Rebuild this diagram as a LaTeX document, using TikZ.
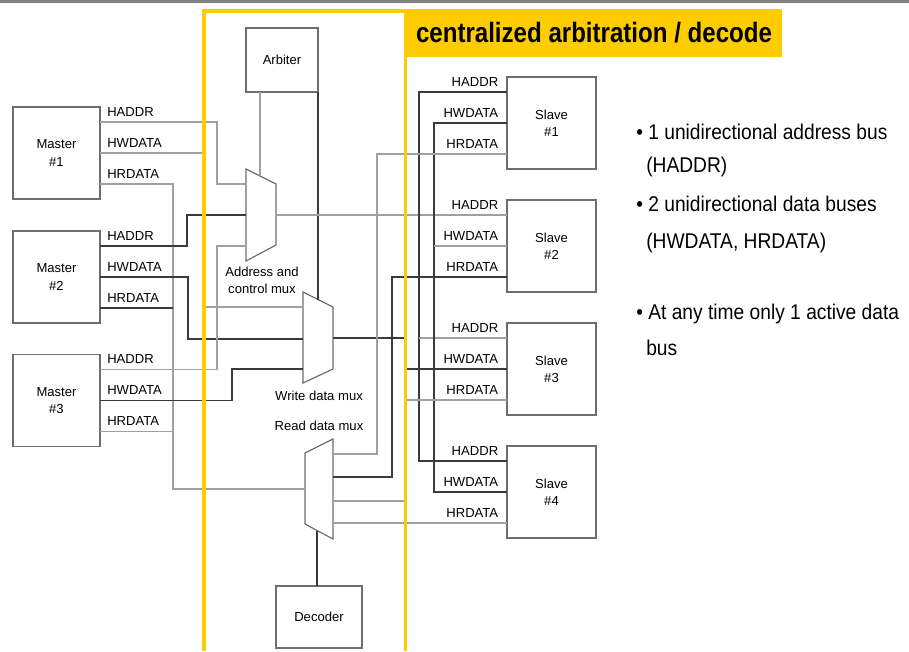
\documentclass[tikz,border=0pt]{standalone}
\usepackage{fontspec}
\setmainfont{Liberation Sans}
\newfontfamily\titlesans[FakeStretch=0.86]{Liberation Sans}
\newfontfamily\slidesans[FakeStretch=0.9]{Liberation Sans}
\usepackage{xcolor}
\usetikzlibrary{positioning, calc}
\definecolor{slideyellow}{HTML}{FFCC00}
\definecolor{bargray}{HTML}{808080}
\definecolor{boxgray}{HTML}{6E6E6E}
\definecolor{wiregray}{HTML}{A0A0A0}
\definecolor{wiredark}{HTML}{3A3A3A}

\begin{document}
\begin{tikzpicture}[x=0.75pt, y=-0.75pt, font=\fontsize{9.8}{13}\selectfont,
    unitbox/.style={rectangle, draw=boxgray, line width=0.9pt, align=center, inner sep=0pt, outer sep=0pt},
    masterbox/.style={unitbox, minimum width=65.25pt, minimum height=69pt},
    slavebox/.style={unitbox, minimum width=66.75pt, minimum height=69pt},
    muxshape/.style={draw=boxgray, line width=0.9pt, fill=white, line join=miter},
    bus/.style={draw=wiregray, line width=0.9pt},
    busdk/.style={draw=wiredark, line width=0.8pt},
    siglabel/.style={inner sep=0pt, anchor=base west},
    slavelabel/.style={inner sep=0pt, anchor=base east}]

    \useasboundingbox (0,0) rectangle (909,651);
    \fill[bargray] (0,0) rectangle (909,3);

    % masters and slaves
    \node (m1) [masterbox] at (56.5,153) {Master\\\#1};
    \node (m2) [masterbox, below=24pt of m1] {Master\\\#2};
    \node (m3) [masterbox, below=23.5pt of m2] {Master\\\#3};
    \node (s1) [slavebox] at (551.5,123) {Slave\\\#1};
    \node (s2) [slavebox, below=23.25pt of s1] {Slave\\\#2};
    \node (s3) [slavebox, below=23.25pt of s2] {Slave\\\#3};
    \node (s4) [slavebox, below=23.25pt of s3] {Slave\\\#4};
    \node (arb) [unitbox, minimum width=54pt, minimum height=48pt] at (282,60) {Arbiter};
    \node (dec) [unitbox, minimum width=64.5pt, minimum height=46.5pt] at (319,617) {Decoder};

    % bus ports
    \coordinate (m1-a) at ([yshift=23.25pt]m1.east);
    \coordinate (m1-w) at (m1.east);
    \coordinate (m1-r) at ([yshift=-23.25pt]m1.east);
    \coordinate (m2-a) at ([yshift=23.25pt]m2.east);
    \coordinate (m2-w) at (m2.east);
    \coordinate (m2-r) at ([yshift=-23.25pt]m2.east);
    \coordinate (m3-a) at ([yshift=23.25pt]m3.east);
    \coordinate (m3-w) at (m3.east);
    \coordinate (m3-r) at ([yshift=-23.25pt]m3.east);
    \coordinate (s1-a) at ([yshift=23.25pt]s1.west);
    \coordinate (s1-w) at (s1.west);
    \coordinate (s1-r) at ([yshift=-23.25pt]s1.west);
    \coordinate (s2-a) at ([yshift=23.25pt]s2.west);
    \coordinate (s2-w) at (s2.west);
    \coordinate (s2-r) at ([yshift=-23.25pt]s2.west);
    \coordinate (s3-a) at ([yshift=23.25pt]s3.west);
    \coordinate (s3-w) at (s3.west);
    \coordinate (s3-r) at ([yshift=-23.25pt]s3.west);
    \coordinate (s4-a) at ([yshift=23.25pt]s4.west);
    \coordinate (s4-w) at (s4.west);
    \coordinate (s4-r) at ([yshift=-23.25pt]s4.west);

    \node [siglabel] at ([shift={(5.25pt,4.5pt)}]m1-a) {HADDR};
    \node [siglabel] at ([shift={(5.25pt,4.5pt)}]m1-w) {HWDATA};
    \node [siglabel] at ([shift={(5.25pt,4.5pt)}]m1-r) {HRDATA};
    \node [siglabel] at ([shift={(5.25pt,4.5pt)}]m2-a) {HADDR};
    \node [siglabel] at ([shift={(5.25pt,4.5pt)}]m2-w) {HWDATA};
    \node [siglabel] at ([shift={(5.25pt,4.5pt)}]m2-r) {HRDATA};
    \node [siglabel] at ([shift={(5.25pt,4.5pt)}]m3-a) {HADDR};
    \node [siglabel] at ([shift={(5.25pt,4.5pt)}]m3-w) {HWDATA};
    \node [siglabel] at ([shift={(5.25pt,4.5pt)}]m3-r) {HRDATA};
    \node [slavelabel] at ([shift={(-6.4pt,4.5pt)}]s1-a) {HADDR};
    \node [slavelabel] at ([shift={(-6.4pt,4.5pt)}]s1-w) {HWDATA};
    \node [slavelabel] at ([shift={(-6.4pt,4.5pt)}]s1-r) {HRDATA};
    \node [slavelabel] at ([shift={(-6.4pt,4.5pt)}]s2-a) {HADDR};
    \node [slavelabel] at ([shift={(-6.4pt,4.5pt)}]s2-w) {HWDATA};
    \node [slavelabel] at ([shift={(-6.4pt,4.5pt)}]s2-r) {HRDATA};
    \node [slavelabel] at ([shift={(-6.4pt,4.5pt)}]s3-a) {HADDR};
    \node [slavelabel] at ([shift={(-6.4pt,4.5pt)}]s3-w) {HWDATA};
    \node [slavelabel] at ([shift={(-6.4pt,4.5pt)}]s3-r) {HRDATA};
    \node [slavelabel] at ([shift={(-6.4pt,4.5pt)}]s4-a) {HADDR};
    \node [slavelabel] at ([shift={(-6.4pt,4.5pt)}]s4-w) {HWDATA};
    \node [slavelabel] at ([shift={(-6.4pt,4.5pt)}]s4-r) {HRDATA};

    % the three muxes
    \draw [muxshape] (246,169) -- (276,184) -- (276,245) -- (246,261) -- cycle;
    \draw [muxshape] (303,292) -- (333,307) -- (333,369) -- (303,383) -- cycle;
    \draw [muxshape] (305,453) -- (333,439) -- (333,539) -- (305,524) -- cycle;
    \coordinate (amux-i1) at (246,184);
    \coordinate (amux-i2) at (246,215);
    \coordinate (amux-i3) at (246,246);
    \coordinate (amux-o) at (276,215);
    \coordinate (amux-sel) at (260,176);
    \coordinate (wmux-i1) at (303,307);
    \coordinate (wmux-i2) at (303,339);
    \coordinate (wmux-i3) at (303,369);
    \coordinate (wmux-o) at (333,338);
    \coordinate (wmux-sel) at (318,299.5);
    \coordinate (rmux-o) at (305,489);
    \coordinate (rmux-i1) at (333,454);
    \coordinate (rmux-i2) at (333,477);
    \coordinate (rmux-i3) at (333,501);
    \coordinate (rmux-i4) at (333,523);
    \coordinate (rmux-sel) at (317,530.5);
    \coordinate (rdjoin) at (173,489);

    \node (amux-lbl) [align=center, inner sep=0pt, font=\fontsize{9.8}{12.75}\selectfont] at (262,280.5) {Address and\\control mux};
    \node (wmux-lbl) [inner sep=0pt] at (319,396) {Write data mux};
    \node (rmux-lbl) [inner sep=0pt] at (319,426) {Read data mux};

    % master side
    \draw [bus] (m1-a) -| ([xshift=-21.75pt]amux-i1) -- (amux-i1);
    \draw [bus] (m1-w) -| ([xshift=-73.5pt]wmux-i1) -- (wmux-i1);
    \draw [bus] (m1-r) -| (rdjoin) -- (rmux-o);
    \draw [busdk] (m2-a) -| ([xshift=-44.25pt]amux-i2) -- (amux-i2);
    \draw [busdk] (m2-w) -| ([xshift=-86.25pt]wmux-i2) -- (wmux-i2);
    \draw [busdk] (m2-r) -- (m2-r -| rdjoin);
    \draw [bus] (m3-a) -| ([xshift=-21.75pt]amux-i3) -- (amux-i3);
    \draw [busdk] (m3-w) -| ([xshift=-53.25pt]wmux-i3) -- (wmux-i3);
    \draw [bus] (m3-r) -- (m3-r -| rdjoin);

    % arbiter and decoder
    \draw [bus] (arb.south -| amux-sel) -- (amux-sel);
    \draw [busdk] (arb.south east) -- (wmux-sel);
    \draw [busdk] (dec.north -| rmux-sel) -- (rmux-sel);

    % slave side
    \draw [bus] (amux-o) -- (s2-a);
    \draw [busdk] (s1-a) -| ([xshift=-66pt]s4-a) -- (s4-a);
    \draw [bus] (s3-a) -- ([xshift=-66pt]s3-a);
    \draw [busdk] (s1-w) -| ([xshift=-54.75pt]s4-w) -- (s4-w);
    \draw [bus] (s2-w) -- ([xshift=-54.75pt]s2-w);
    \draw [busdk] (wmux-o) -| ([xshift=-76.5pt]s3-w) -- (s3-w);
    \draw [bus] (s1-r) -| ([xshift=33pt]rmux-i1) -- (rmux-i1);
    \draw [busdk] (s2-r) -| ([xshift=44.25pt]rmux-i2) -- (rmux-i2);
    \draw [bus] (s3-r) -| ([xshift=54pt]rmux-i3) -- (rmux-i3);
    \draw [bus] (s4-r) -- (rmux-i4);

    % yellow frame and title
    \draw [slideyellow, line width=2.3pt] (204,651) -- (204,11) -- (405.5,11) -- (405.5,651);
    \fill [slideyellow] (404,9) rectangle (782,57);
    \node (title) [anchor=base, inner sep=0pt, font=\titlesans\bfseries\fontsize{21}{24}\selectfont] at (594,42) {centralized arbitration / decode};

    % bullet points
    \node (pt1) [siglabel, font=\slidesans\fontsize{16}{19}\selectfont] at (636,139) {\textbullet\hspace{4pt}1 unidirectional address bus};
    \node (pt1b) [siglabel, font=\slidesans\fontsize{16}{19}\selectfont] at (646,172) {(HADDR)};
    \node (pt2) [siglabel, font=\slidesans\fontsize{16}{19}\selectfont] at (636,211) {\textbullet\hspace{4pt}2 unidirectional data buses};
    \node (pt2b) [siglabel, font=\slidesans\fontsize{16}{19}\selectfont] at (646,248) {(HWDATA, HRDATA)};
    \node (pt3) [siglabel, font=\slidesans\fontsize{16}{19}\selectfont] at (636,319) {\textbullet\hspace{4pt}At any time only 1 active data};
    \node (pt3b) [siglabel, font=\slidesans\fontsize{16}{19}\selectfont] at (646,355) {bus};
\end{tikzpicture}
\end{document}
